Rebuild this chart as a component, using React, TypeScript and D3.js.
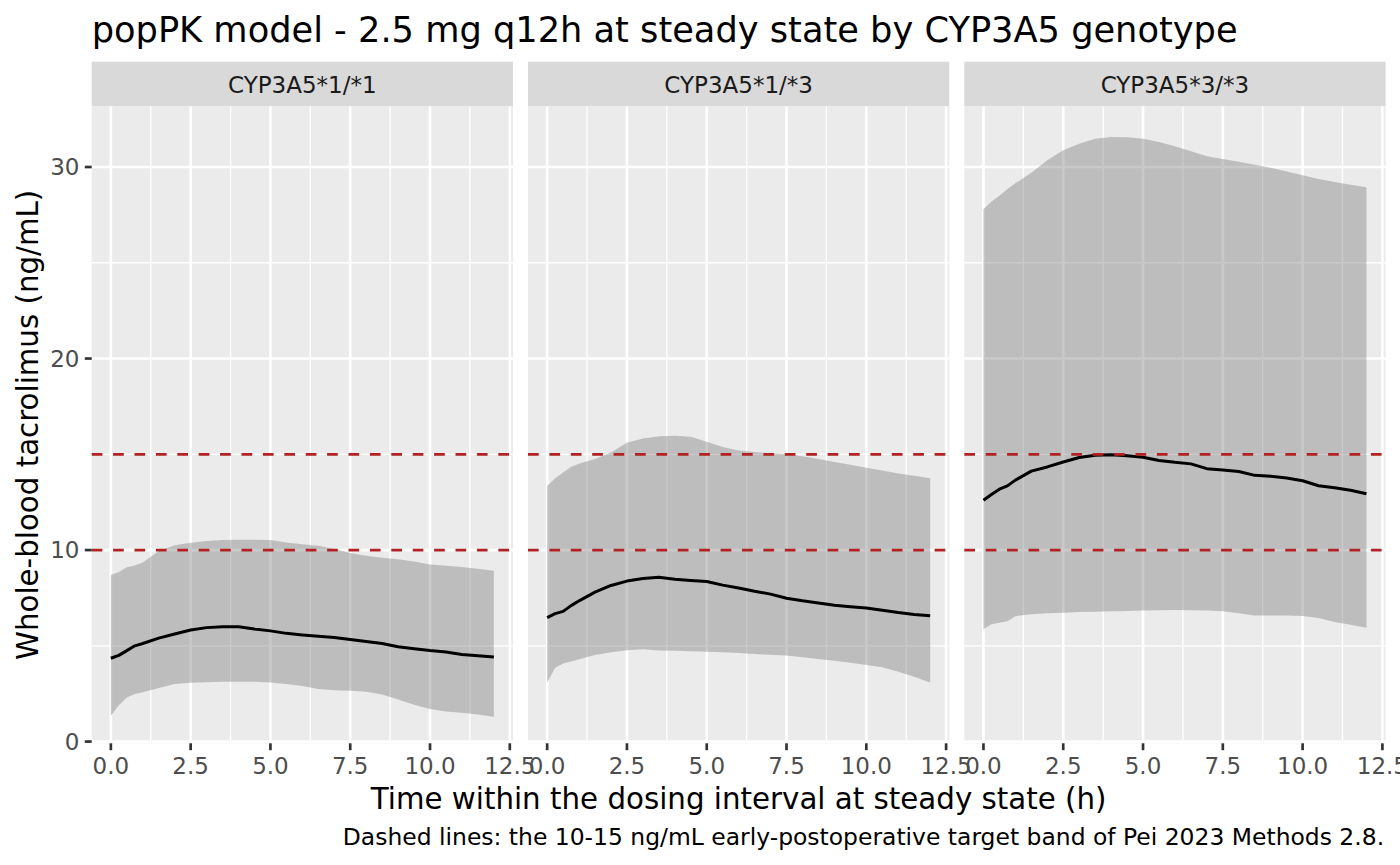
import React, { useEffect, useRef } from "react";
import * as d3 from "d3";

// sampling times within the dosing interval (h)
const times = [0, 0.25, 0.5, 0.75, 1, 1.5, 2, 2.5, 3, 3.5, 4, 4.5, 5, 5.5, 6, 6.5, 7, 7.5, 8, 8.5, 9, 9.5, 10, 10.5, 11, 11.5, 12];

const genotypes = ["CYP3A5*1/*1", "CYP3A5*1/*3", "CYP3A5*3/*3"];

// CYP3A5*1/*1
const median11 = [4.35, 4.5, 4.75, 5.0, 5.12, 5.4, 5.62, 5.83, 5.95, 6.0, 6.0, 5.88, 5.78, 5.65, 5.57, 5.5, 5.43, 5.33, 5.23, 5.12, 4.95, 4.85, 4.75, 4.68, 4.55, 4.48, 4.42];
const lower11 = [1.35, 1.9, 2.3, 2.48, 2.58, 2.8, 3.0, 3.07, 3.1, 3.13, 3.13, 3.12, 3.08, 3.0, 2.9, 2.75, 2.68, 2.65, 2.6, 2.46, 2.2, 1.92, 1.7, 1.57, 1.5, 1.42, 1.3];
const upper11 = [8.7, 8.85, 9.1, 9.2, 9.35, 9.95, 10.25, 10.38, 10.47, 10.52, 10.54, 10.54, 10.53, 10.4, 10.3, 10.22, 10.05, 9.85, 9.7, 9.6, 9.52, 9.4, 9.25, 9.18, 9.12, 9.02, 8.92];

// CYP3A5*1/*3
const median13 = [6.47, 6.68, 6.8, 7.1, 7.35, 7.8, 8.15, 8.38, 8.52, 8.58, 8.47, 8.41, 8.36, 8.17, 8.02, 7.85, 7.7, 7.48, 7.35, 7.24, 7.12, 7.04, 6.97, 6.86, 6.74, 6.64, 6.57];
const lower13 = [3.08, 3.85, 4.08, 4.18, 4.3, 4.52, 4.66, 4.77, 4.82, 4.75, 4.74, 4.72, 4.69, 4.66, 4.62, 4.57, 4.53, 4.49, 4.4, 4.31, 4.22, 4.12, 4.0, 3.88, 3.65, 3.38, 3.08];
const upper13 = [13.35, 13.75, 14.05, 14.35, 14.5, 14.75, 15.1, 15.6, 15.82, 15.94, 15.97, 15.92, 15.65, 15.38, 15.2, 15.12, 15.06, 15.0, 14.9, 14.76, 14.6, 14.45, 14.3, 14.15, 14.0, 13.88, 13.75];

// CYP3A5*3/*3
const median33 = [12.6, 12.9, 13.18, 13.35, 13.65, 14.12, 14.34, 14.6, 14.83, 14.95, 14.98, 14.93, 14.85, 14.68, 14.58, 14.5, 14.25, 14.18, 14.1, 13.9, 13.85, 13.76, 13.62, 13.36, 13.25, 13.12, 12.94];
const lower33 = [5.86, 6.12, 6.2, 6.28, 6.55, 6.65, 6.7, 6.73, 6.76, 6.78, 6.8, 6.82, 6.84, 6.86, 6.87, 6.86, 6.85, 6.8, 6.7, 6.58, 6.58, 6.58, 6.56, 6.45, 6.25, 6.1, 5.94];
const upper33 = [27.8, 28.2, 28.5, 28.85, 29.15, 29.7, 30.35, 30.88, 31.22, 31.47, 31.57, 31.56, 31.47, 31.3, 31.08, 30.82, 30.56, 30.42, 30.27, 30.12, 29.96, 29.77, 29.57, 29.38, 29.22, 29.08, 28.95];

const medians = [median11, median13, median33];
const lowers = [lower11, lower13, lower33];
const uppers = [upper11, upper13, upper33];

const targetBand = [10, 15];
const xTicks = [0, 2.5, 5, 7.5, 10, 12.5];
const xMinor = [1.25, 3.75, 6.25, 8.75, 11.25];
const yTicks = [0, 10, 20, 30];
const yMinor = [5, 15, 25];

const title = "popPK model - 2.5 mg q12h at steady state by CYP3A5 genotype";
const xTitle = "Time within the dosing interval at steady state (h)";
const yTitle = "Whole-blood tacrolimus (ng/mL)";
const caption = "Dashed lines: the 10-15 ng/mL early-postoperative target band of Pei 2023 Methods 2.8.";

interface Pt {
  t: number;
  mid: number;
  lo: number;
  hi: number;
}

const App: React.FC = () => {
  const svgRef = useRef<SVGSVGElement | null>(null);

  useEffect(() => {
    if (!svgRef.current) return;
    document.body.style.margin = "0";

    const width = 1400;
    const height = 865;
    const font = "'DejaVu Sans', Verdana, sans-serif";
    const small = "23px";
    const medium = "29.3px";

    // panel geometry
    const left = 91.7;
    const panelW = 421.3;
    const gap = 15;
    const stripTop = 61.7;
    const panelTop = 106.5;
    const panelBottom = 743.3;
    const gridMajor = 2.67;
    const gridMinor = 1.33;
    const tickLen = 6.9;

    const svg = d3.select(svgRef.current).attr("width", width).attr("height", height);
    svg.selectAll("*").remove();

    svg.append("rect").attr("width", width).attr("height", height).attr("fill", "#fff");

    const yScale = d3.scaleLinear().domain([-0.09, 33.16]).range([panelBottom, panelTop]);

    // title
    svg
      .append("text")
      .attr("x", left)
      .attr("y", 41.7)
      .style("font-family", font)
      .style("font-size", "35.2px")
      .style("fill", "#000")
      .text(title);

    genotypes.forEach((g, i) => {
      const x0 = left + i * (panelW + gap);
      const xScale = d3.scaleLinear().domain([-0.6, 12.6]).range([x0, x0 + panelW]);
      const pts: Pt[] = times.map((t, k) => ({ t, mid: medians[i][k], lo: lowers[i][k], hi: uppers[i][k] }));

      // strip
      svg
        .append("rect")
        .attr("x", x0)
        .attr("y", stripTop)
        .attr("width", panelW)
        .attr("height", panelTop - stripTop)
        .attr("fill", "#D9D9D9");
      svg
        .append("text")
        .attr("x", x0 + panelW / 2)
        .attr("y", 92.7)
        .attr("text-anchor", "middle")
        .style("font-family", font)
        .style("font-size", small)
        .style("fill", "#1A1A1A")
        .text(g);

      // panel background
      svg
        .append("rect")
        .attr("x", x0)
        .attr("y", panelTop)
        .attr("width", panelW)
        .attr("height", panelBottom - panelTop)
        .attr("fill", "#EBEBEB");

      const grid = svg.append("g").attr("stroke", "#fff");
      grid
        .selectAll("line.ymin")
        .data(yMinor)
        .enter()
        .append("line")
        .attr("x1", x0)
        .attr("x2", x0 + panelW)
        .attr("y1", (d) => yScale(d))
        .attr("y2", (d) => yScale(d))
        .attr("stroke-width", gridMinor);
      grid
        .selectAll("line.xmin")
        .data(xMinor)
        .enter()
        .append("line")
        .attr("x1", (d) => xScale(d))
        .attr("x2", (d) => xScale(d))
        .attr("y1", panelTop)
        .attr("y2", panelBottom)
        .attr("stroke-width", gridMinor);
      grid
        .selectAll("line.ymaj")
        .data(yTicks)
        .enter()
        .append("line")
        .attr("x1", x0)
        .attr("x2", x0 + panelW)
        .attr("y1", (d) => yScale(d))
        .attr("y2", (d) => yScale(d))
        .attr("stroke-width", gridMajor);
      grid
        .selectAll("line.xmaj")
        .data(xTicks)
        .enter()
        .append("line")
        .attr("x1", (d) => xScale(d))
        .attr("x2", (d) => xScale(d))
        .attr("y1", panelTop)
        .attr("y2", panelBottom)
        .attr("stroke-width", gridMajor);

      // 90% band
      const area = d3
        .area<Pt>()
        .x((d) => xScale(d.t))
        .y0((d) => yScale(d.lo))
        .y1((d) => yScale(d.hi));
      svg.append("path").datum(pts).attr("d", area).attr("fill", "#7F7F7F").attr("fill-opacity", 0.42);

      // median
      const line = d3
        .line<Pt>()
        .x((d) => xScale(d.t))
        .y((d) => yScale(d.mid));
      svg
        .append("path")
        .datum(pts)
        .attr("d", line)
        .attr("fill", "none")
        .attr("stroke", "#000")
        .attr("stroke-width", 3)
        .attr("stroke-linejoin", "round");

      // target band
      svg
        .append("g")
        .selectAll("line")
        .data(targetBand)
        .enter()
        .append("line")
        .attr("x1", x0)
        .attr("x2", x0 + panelW)
        .attr("y1", (d) => yScale(d))
        .attr("y2", (d) => yScale(d))
        .attr("stroke", "#B22222")
        .attr("stroke-width", 2.67)
        .attr("stroke-dasharray", "10.7 10.7");

      // x axis
      const xa = svg.append("g");
      xa.selectAll("line")
        .data(xTicks)
        .enter()
        .append("line")
        .attr("x1", (d) => xScale(d))
        .attr("x2", (d) => xScale(d))
        .attr("y1", panelBottom)
        .attr("y2", panelBottom + tickLen)
        .attr("stroke", "#333333")
        .attr("stroke-width", gridMajor);
      xa.selectAll("text")
        .data(xTicks)
        .enter()
        .append("text")
        .attr("x", (d) => xScale(d))
        .attr("y", 774)
        .attr("text-anchor", "middle")
        .style("font-family", font)
        .style("font-size", small)
        .style("fill", "#4D4D4D")
        .text((d) => d3.format(".1f")(d));
    });

    // y axis (first panel only)
    const ya = svg.append("g");
    ya.selectAll("line")
      .data(yTicks)
      .enter()
      .append("line")
      .attr("x1", left - tickLen)
      .attr("x2", left)
      .attr("y1", (d) => yScale(d))
      .attr("y2", (d) => yScale(d))
      .attr("stroke", "#333333")
      .attr("stroke-width", gridMajor);
    ya.selectAll("text")
      .data(yTicks)
      .enter()
      .append("text")
      .attr("x", 79.5)
      .attr("y", (d) => yScale(d))
      .attr("dy", "0.36em")
      .attr("text-anchor", "end")
      .style("font-family", font)
      .style("font-size", small)
      .style("fill", "#4D4D4D")
      .text((d) => String(d));

    // axis titles
    const panelsRight = left + 3 * panelW + 2 * gap;
    svg
      .append("text")
      .attr("x", (left + panelsRight) / 2)
      .attr("y", 809)
      .attr("text-anchor", "middle")
      .style("font-family", font)
      .style("font-size", medium)
      .style("fill", "#000")
      .text(xTitle);
    svg
      .append("text")
      .attr("transform", `translate(38, ${(panelTop + panelBottom) / 2}) rotate(-90)`)
      .attr("text-anchor", "middle")
      .style("font-family", font)
      .style("font-size", medium)
      .style("fill", "#000")
      .text(yTitle);

    // caption
    svg
      .append("text")
      .attr("x", panelsRight - 1.5)
      .attr("y", 845)
      .attr("text-anchor", "end")
      .style("font-family", font)
      .style("font-size", "23.45px")
      .style("fill", "#000")
      .text(caption);
  }, []);

  return <svg ref={svgRef} style={{ display: "block" }}></svg>;
};

export default App;
